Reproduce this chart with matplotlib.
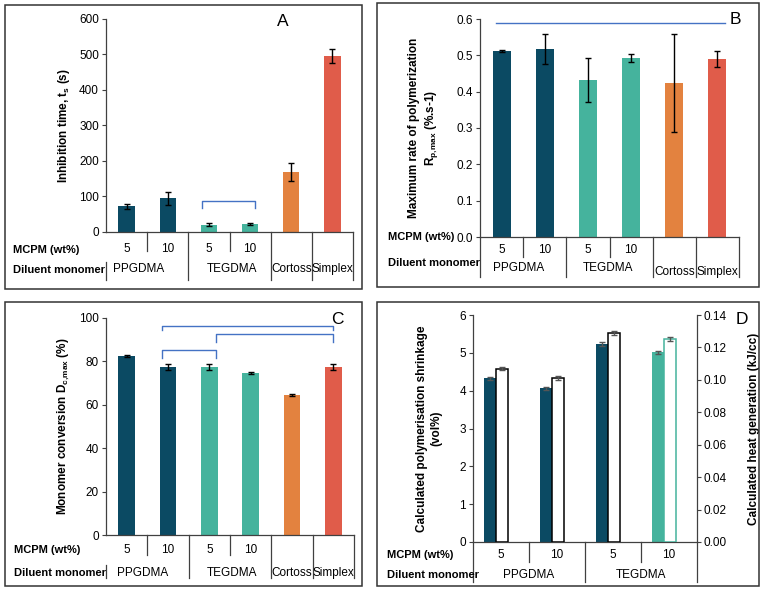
import matplotlib
matplotlib.use("Agg")
import matplotlib.pyplot as plt
from matplotlib.patches import Rectangle
from matplotlib.transforms import blended_transform_factory as btf

plt.rcParams['font.family'] = ['Liberation Sans', 'DejaVu Sans']
plt.rcParams['mathtext.fontset'] = 'custom'
plt.rcParams['mathtext.rm'] = 'Liberation Sans:bold'
plt.rcParams['mathtext.it'] = 'Liberation Sans:bold'
plt.rcParams['mathtext.bf'] = 'Liberation Sans:bold'
plt.rcParams['mathtext.default'] = 'rm'

# ---------------- data ----------------
categories = ['PPGDMA 5', 'PPGDMA 10', 'TEGDMA 5', 'TEGDMA 10', 'Cortoss', 'Simplex']
mcpm_labels = ['5', '10', '5', '10', '', '']
diluent_groups = [('PPGDMA', 0, 1), ('TEGDMA', 2, 3), ('Cortoss', 4, 4), ('Simplex', 5, 5)]
bar_colors = ['#0b4a63', '#0b4a63', '#45b39d', '#45b39d', '#e3823f', '#e05c4a']

inhibition = [72, 95, 21, 23, 168, 496]
inhibition_err = [8, 18, 4, 3, 25, 19]

rate = [0.512, 0.518, 0.432, 0.493, 0.424, 0.490]
rate_err = [0.003, 0.042, 0.060, 0.011, 0.135, 0.021]

conversion = [82.6, 77.6, 77.6, 74.8, 64.4, 77.6]
conversion_err = [0.5, 1.4, 1.4, 0.5, 0.5, 1.4]

d_categories = ['PPGDMA 5', 'PPGDMA 10', 'TEGDMA 5', 'TEGDMA 10']
d_mcpm_labels = ['5', '10', '5', '10']
d_groups = [('PPGDMA', 0, 1), ('TEGDMA', 2, 3)]
shrinkage = [4.33, 4.06, 5.23, 5.01]
shrinkage_err = [0.04, 0.05, 0.05, 0.05]
heat = [0.107, 0.101, 0.129, 0.125]
heat_err = [0.0012, 0.0012, 0.0012, 0.0012]
d_colors = ['#0b4a63', '#0b4a63', '#0b4a63', '#45b39d']
d_edge = ['black', 'black', 'black', '#45b39d']

# significance brackets: (x_start, x_end, y_top, y_tick_bottom)
brackets_A = [(1.83, 3.12, 88, 67)]
brackets_C = [(0.86, 4.99, 96.4, 94.3), (2.17, 4.99, 92.5, 89.0), (0.86, 2.17, 85.2, 81.7)]
line_B = (-0.13, 5.17, 0.59)

# ---------------- layout helpers ----------------
W, H = 763, 591
fig = plt.figure(figsize=(W / 100, H / 100), dpi=100)

def rect(l, t, r, b):
    return [l / W, 1 - b / H, (r - l) / W, (b - t) / H]

def fy(y):
    return 1 - y / H

def fx(x):
    return x / W

AX_COL = '#404040'
BR_COL = '#4472c4'
TICK_FS = 8.5

# panel borders
for (l, t, r, b) in [(5, 5, 362, 289), (377, 3, 759, 287), (5, 302, 362, 586), (377, 302, 759, 586)]:
    fig.patches.append(Rectangle((fx(l), fy(b)), (r - l) / W, (b - t) / H, transform=fig.transFigure,
                                 fill=False, edgecolor='#333333', lw=1.1))

def style_ax(ax):
    for s in ['top', 'right']:
        ax.spines[s].set_visible(False)
    for s in ['left', 'bottom']:
        ax.spines[s].set_color(AX_COL)
        ax.spines[s].set_linewidth(0.9)
    ax.tick_params(axis='y', labelsize=TICK_FS, length=3, width=0.8, color=AX_COL, pad=2)
    ax.set_xticks([])

def table(ax, ncat, mcpm, groups, y_axis, y_num, y_grp, y_short, y_long, left_top,
          lab_x, y_mcpm, y_dil, group_pos=None, group_y=None):
    tr = btf(ax.transData, fig.transFigure)
    for i in range(ncat + 1):
        xb = i - 0.5
        if i == 0:
            ax.plot([xb, xb], [fy(left_top), fy(y_long)], color=AX_COL, lw=0.9, transform=tr, clip_on=False)
            continue
        is_long = i == ncat or any(g[1] == i for g in groups)
        ax.plot([xb, xb], [fy(y_axis), fy(y_long if is_long else y_short)], color=AX_COL, lw=0.9,
                transform=tr, clip_on=False)
    for i, m in enumerate(mcpm):
        if m:
            ax.text(i, fy(y_num), m, transform=tr, ha='center', va='center', fontsize=8.5)
    for k, (name, a, b) in enumerate(groups):
        xc = group_pos[k] if group_pos else (a + b) / 2
        yy = group_y[k] if group_y else y_grp
        ax.text(xc, fy(yy), name, transform=tr, ha='center', va='center', fontsize=8.5)
    fig.text(fx(lab_x), fy(y_mcpm), 'MCPM (wt%)', ha='left', va='center', fontsize=8, fontweight='bold')
    fig.text(fx(lab_x), fy(y_dil), 'Diluent monomer', ha='left', va='center', fontsize=8, fontweight='bold')

def bracket(ax, x0, x1, ytop, ybot):
    ax.plot([x0, x0, x1, x1], [ybot, ytop, ytop, ybot], color=BR_COL, lw=1.0, clip_on=False)

ebkw = dict(ecolor='black', elinewidth=1.0, capsize=2.5, capthick=1.0)
xs = list(range(len(categories)))

# ---------------- Panel A ----------------
axA = fig.add_axes(rect(106, 19, 353, 232))
axA.bar(xs, inhibition, width=0.4, color=bar_colors, yerr=inhibition_err, error_kw=ebkw)
axA.set_xlim(-0.5, 5.5)
axA.set_ylim(0, 600)
axA.set_yticks(range(0, 601, 100))
style_ax(axA)
axA.set_ylabel('Inhibition time, t$_{s}$ (s)', fontsize=8.5, fontweight='bold')
axA.yaxis.set_label_coords((72 - 106) / 247, 0.5)
for b in brackets_A:
    bracket(axA, *b)
fig.text(fx(283), fy(22), 'A', ha='center', va='center', fontsize=12.5)
table(axA, 6, mcpm_labels, diluent_groups, 232, 249, 269, 251, 280, 262,
      13, 250, 270, group_pos=[0.3, 2.55, 4, 5])

# ---------------- Panel B ----------------
axB = fig.add_axes(rect(480, 19, 739, 237))
axB.bar(xs, rate, width=0.42, color=bar_colors, yerr=rate_err, error_kw=ebkw)
axB.set_xlim(-0.5, 5.5)
axB.set_ylim(0, 0.6)
axB.set_yticks([0, 0.1, 0.2, 0.3, 0.4, 0.5, 0.6])
axB.set_yticklabels(['0.0', '0.1', '0.2', '0.3', '0.4', '0.5', '0.6'])
style_ax(axB)
axB.set_ylabel('Maximum rate of polymerization\nR$_{p,\\!max}$ (%.s-1)', fontsize=8.5, fontweight='bold',
               linespacing=1.3)
axB.yaxis.set_label_coords((440 - 480) / 259, 0.5)
axB.plot([line_B[0], line_B[1]], [line_B[2], line_B[2]], color=BR_COL, lw=1.0, clip_on=False)
fig.text(fx(735), fy(20), 'B', ha='center', va='center', fontsize=12.5)
table(axB, 6, mcpm_labels, diluent_groups, 237, 250, 268, 257, 277, 237,
      388, 237, 263, group_pos=[0.4, 2.47, 4, 5], group_y=[268, 268, 272, 272])

# ---------------- Panel C ----------------
axC = fig.add_axes(rect(106, 318, 354, 535))
axC.bar(xs, conversion, width=0.4, color=bar_colors, yerr=conversion_err, error_kw=ebkw)
axC.set_xlim(-0.5, 5.5)
axC.set_ylim(0, 100)
axC.set_yticks(range(0, 101, 20))
style_ax(axC)
axC.set_ylabel('Monomer conversion D$_{c,\\!max}$ (%)', fontsize=8.5, fontweight='bold')
axC.yaxis.set_label_coords((72 - 106) / 248, 0.5)
for b in brackets_C:
    bracket(axC, *b)
fig.text(fx(337), fy(319), 'C', ha='center', va='center', fontsize=12.5)
table(axC, 6, mcpm_labels, diluent_groups, 535, 550, 573, 555, 578, 565,
      14, 550, 573, group_pos=[0.38, 2.55, 4, 5])

# ---------------- Panel D ----------------
axD = fig.add_axes(rect(473, 315, 697, 542))
dx = list(range(len(d_categories)))
axD.bar([x - 0.2 for x in dx], shrinkage, width=0.21, color=d_colors, yerr=shrinkage_err,
        error_kw=dict(ecolor='#555555', elinewidth=1.0, capsize=2.5, capthick=1.0))
axD.set_xlim(-0.5, 3.5)
axD.set_ylim(0, 6)
axD.set_yticks(range(0, 7))
style_ax(axD)
axD.set_ylabel('Calculated polymerisation shrinkage\n(vol%)', fontsize=8.5, fontweight='bold',
               linespacing=1.2)
axD.yaxis.set_label_coords((442 - 473) / 224, 0.5)
axD2 = axD.twinx()
axD2.bar([x + 0.02 for x in dx], heat, width=0.21, color='white', edgecolor=d_edge, linewidth=1.1,
         yerr=heat_err, error_kw=dict(ecolor='#555555', elinewidth=1.0, capsize=2.5, capthick=1.0))
axD2.set_ylim(0, 0.14)
axD2.set_yticks([0, 0.02, 0.04, 0.06, 0.08, 0.10, 0.12, 0.14])
axD2.set_yticklabels(['0.00', '0.02', '0.04', '0.06', '0.08', '0.10', '0.12', '0.14'])
for s in ['top', 'left', 'bottom']:
    axD2.spines[s].set_visible(False)
axD2.spines['right'].set_color(AX_COL)
axD2.spines['right'].set_linewidth(0.9)
axD2.tick_params(axis='y', labelsize=TICK_FS, length=3, width=0.8, color=AX_COL, pad=2)
axD2.set_ylabel('Calculated heat generation (kJ/cc)', fontsize=8.5, fontweight='bold')
axD2.yaxis.set_label_coords((748 - 473) / 224, 0.5)
fig.text(fx(742), fy(320), 'D', ha='center', va='center', fontsize=12.5)
table(axD, 4, d_mcpm_labels, d_groups, 542, 555, 575, 562, 582, 542,
      387, 555, 575)

fig.savefig('out.png', dpi=100)
